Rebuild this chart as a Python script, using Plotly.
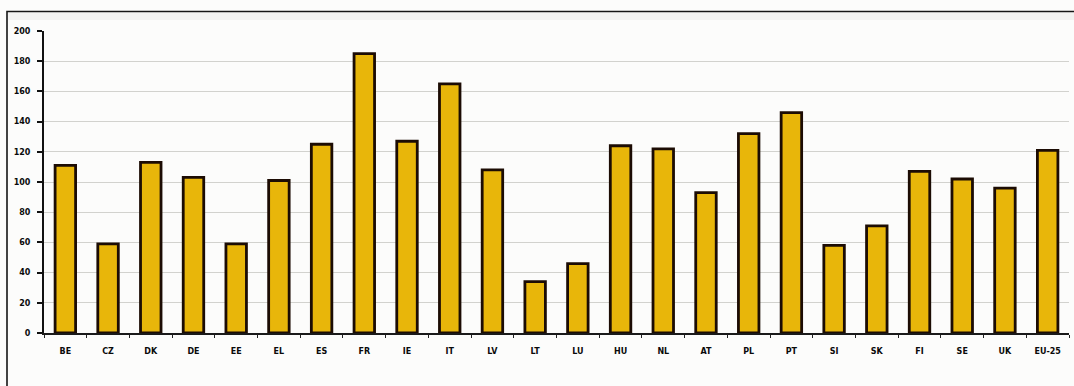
import plotly.graph_objects as go

# Index values per country
countries = ["BE", "CZ", "DK", "DE", "EE", "EL", "ES", "FR", "IE", "IT", "LV", "LT",
             "LU", "HU", "NL", "AT", "PL", "PT", "SI", "SK", "FI", "SE", "UK", "EU-25"]
values = [111, 59, 113, 103, 59, 101, 125, 185, 127, 165, 108, 34,
          46, 124, 122, 93, 132, 146, 58, 71, 107, 102, 96, 121]
y_ticks = [0, 20, 40, 60, 80, 100, 120, 140, 160, 180, 200]

W, H = 1074, 386
ML, MR, MT, MB = 44, 5, 31, 53
pw, ph = W - ML - MR, H - MT - MB


def px_x(p):
    return (p - ML) / pw


def px_y(p):
    return (H - MB - p) / ph


fig = go.Figure(go.Bar(
    x=countries,
    y=values,
    width=0.48,
    marker=dict(color="#E8B60A", line=dict(color="#1c0c04", width=2.8)),
))

tick_font = dict(family="DejaVu Sans, Arial", size=8, color="#0a0a0a", weight="bold")

fig.update_layout(
    width=W, height=H,
    margin=dict(l=ML, r=MR, t=MT, b=MB),
    paper_bgcolor="#fcfcfb",
    plot_bgcolor="#fcfcfb",
    showlegend=False,
    xaxis=dict(
        showgrid=False,
        showline=True, linecolor="#1a1a1a", linewidth=1.5,
        ticks="outside", ticklen=3, tickwidth=1, tickcolor="#222",
        tickson="boundaries",
        tickfont=tick_font,
        ticklabelstandoff=10,
        range=[-0.5, len(countries) - 0.5],
        fixedrange=True,
    ),
    yaxis=dict(
        range=[0, 200],
        tickvals=y_ticks,
        showgrid=True, gridcolor="#d2d2ce", gridwidth=1,
        showline=True, linecolor="#111", linewidth=2,
        ticks="outside", ticklen=5, tickwidth=1.5, tickcolor="#111",
        tickfont=tick_font,
        ticklabelstandoff=5,
        zeroline=False,
        fixedrange=True,
    ),
    shapes=[
        # outer frame around the chart
        dict(type="rect", xref="paper", yref="paper",
             x0=px_x(7), x1=px_x(1090), y0=px_y(400), y1=px_y(11.5),
             line=dict(color="#151515", width=1.6), fillcolor="rgba(0,0,0,0)",
             layer="above"),
        # faint shaded band just below the frame top
        dict(type="rect", xref="paper", yref="paper",
             x0=px_x(8), x1=px_x(1074), y0=px_y(20), y1=px_y(12.5),
             line=dict(width=0), fillcolor="rgba(200,200,200,0.18)",
             layer="below"),
    ],
)

fig.write_html("out.html")
